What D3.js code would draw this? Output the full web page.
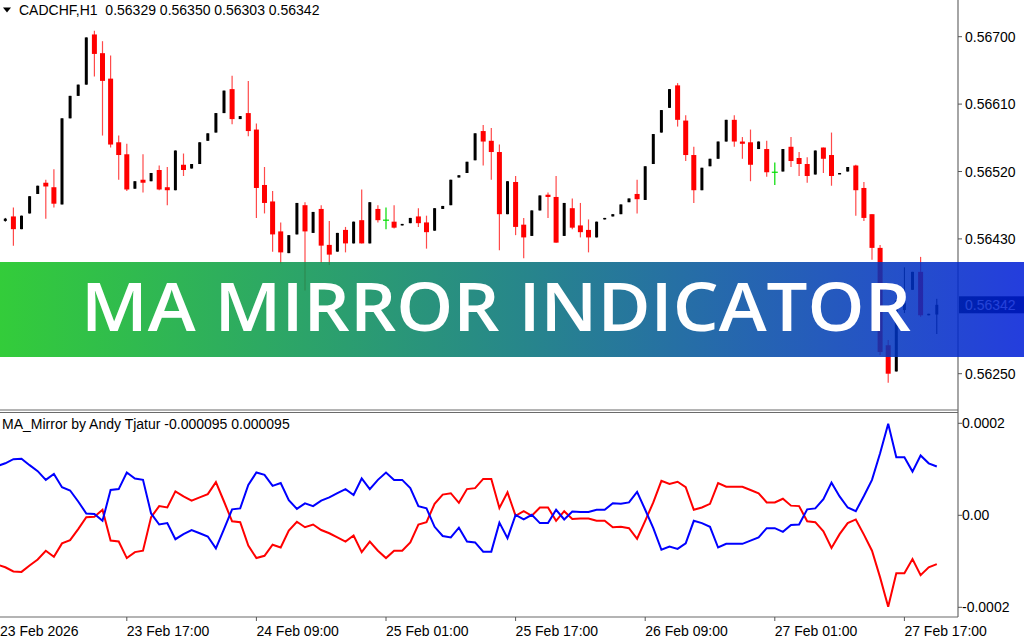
<!DOCTYPE html>
<html>
<head>
<meta charset="utf-8">
<script src="https://cdn.jsdelivr.net/npm/d3@7/dist/d3.min.js"></script>
<style>
  html, body { margin: 0; padding: 0; background: #fff; overflow: hidden; }
  svg { display: block; }
  text { font-family: "Liberation Sans", Arial, sans-serif; font-size: 14px; fill: #000; }
</style>
</head>
<body>
<svg width="1024" height="640"></svg>
<script>
// ---- data (CADCHF H1) ----
const symbolName = "CADCHF,H1"
const lastBar = ["0.56329", "0.56350", "0.56303", "0.56342"]
const indicatorName = "MA_Mirror by Andy Tjatur"
const indicatorLast = ["-0.000095", "0.000095"]
const bannerTitle = "MA MIRROR INDICATOR"

const opens = [
  0.56454, 0.56460, 0.56443, 0.56464, 0.56490, 0.56505, 0.56499, 0.56476, 0.56591, 0.56621,
  0.56636, 0.56703, 0.56678, 0.56644, 0.56559, 0.56543, 0.56497, 0.56509, 0.56507, 0.56522,
  0.56499, 0.56495, 0.56529, 0.56524, 0.56530, 0.56561, 0.56572, 0.56598, 0.56630, 0.56590,
  0.56598, 0.56576, 0.56502, 0.56480, 0.56440, 0.56411, 0.56436, 0.56475, 0.56438, 0.56470,
  0.56422, 0.56413, 0.56442, 0.56424, 0.56455, 0.56424, 0.56470, 0.56455, 0.56453, 0.56448,
  0.56451, 0.56460, 0.56452, 0.56441, 0.56470, 0.56475, 0.56512, 0.56518, 0.56535, 0.56574,
  0.56561, 0.56546, 0.56463, 0.56506, 0.56449, 0.56434, 0.56468, 0.56489, 0.56486, 0.56434,
  0.56471, 0.56448, 0.56442, 0.56432, 0.56456, 0.56460, 0.56463, 0.56479, 0.56490, 0.56482,
  0.56530, 0.56572, 0.56605, 0.56635, 0.56588, 0.56542, 0.56495, 0.56527, 0.56537, 0.56560,
  0.56589, 0.56560, 0.56559, 0.56550, 0.56550, 0.56519, 0.56520, 0.56553, 0.56538, 0.56530,
  0.56516, 0.56552, 0.56542, 0.56517, 0.56520, 0.56528, 0.56498, 0.56463, 0.56418, 0.56288,
  0.56253, 0.56335, 0.56362, 0.56386, 0.56328, 0.56329
]
const highs = [
  0.56458, 0.56472, 0.56461, 0.56487, 0.56501, 0.56509, 0.56523, 0.56591, 0.56621, 0.56636,
  0.56699, 0.56708, 0.56694, 0.56675, 0.56568, 0.56557, 0.56507, 0.56543, 0.56518, 0.56528,
  0.56526, 0.56548, 0.56544, 0.56530, 0.56559, 0.56571, 0.56598, 0.56628, 0.56648, 0.56594,
  0.56641, 0.56584, 0.56526, 0.56494, 0.56452, 0.56435, 0.56478, 0.56479, 0.56466, 0.56475,
  0.56454, 0.56438, 0.56446, 0.56453, 0.56496, 0.56479, 0.56475, 0.56472, 0.56475, 0.56450,
  0.56458, 0.56471, 0.56461, 0.56471, 0.56474, 0.56509, 0.56515, 0.56533, 0.56571, 0.56582,
  0.56578, 0.56556, 0.56507, 0.56514, 0.56458, 0.56468, 0.56488, 0.56492, 0.56514, 0.56478,
  0.56484, 0.56478, 0.56456, 0.56453, 0.56458, 0.56463, 0.56476, 0.56484, 0.56509, 0.56527,
  0.56570, 0.56602, 0.56630, 0.56638, 0.56595, 0.56553, 0.56525, 0.56537, 0.56560, 0.56589,
  0.56595, 0.56566, 0.56576, 0.56560, 0.56561, 0.56532, 0.56550, 0.56566, 0.56546, 0.56539,
  0.56548, 0.56552, 0.56572, 0.56518, 0.56526, 0.56529, 0.56506, 0.56463, 0.56422, 0.56295,
  0.56348, 0.56392, 0.56386, 0.56406, 0.56330, 0.56350
]
const lows = [
  0.56453, 0.56421, 0.56443, 0.56464, 0.56490, 0.56457, 0.56472, 0.56476, 0.56591, 0.56621,
  0.56636, 0.56647, 0.56568, 0.56552, 0.56509, 0.56494, 0.56497, 0.56492, 0.56507, 0.56495,
  0.56475, 0.56495, 0.56514, 0.56524, 0.56530, 0.56561, 0.56572, 0.56598, 0.56583, 0.56590,
  0.56567, 0.56458, 0.56464, 0.56413, 0.56397, 0.56411, 0.56436, 0.56361, 0.56438, 0.56398,
  0.56395, 0.56413, 0.56412, 0.56424, 0.56424, 0.56424, 0.56452, 0.56443, 0.56444, 0.56448,
  0.56451, 0.56446, 0.56417, 0.56441, 0.56470, 0.56475, 0.56512, 0.56518, 0.56535, 0.56528,
  0.56509, 0.56415, 0.56463, 0.56435, 0.56404, 0.56434, 0.56468, 0.56458, 0.56425, 0.56434,
  0.56443, 0.56432, 0.56412, 0.56432, 0.56456, 0.56460, 0.56463, 0.56479, 0.56464, 0.56482,
  0.56530, 0.56572, 0.56605, 0.56580, 0.56534, 0.56478, 0.56495, 0.56527, 0.56537, 0.56560,
  0.56553, 0.56537, 0.56507, 0.56550, 0.56513, 0.56502, 0.56520, 0.56526, 0.56514, 0.56505,
  0.56516, 0.56518, 0.56501, 0.56517, 0.56520, 0.56461, 0.56454, 0.56402, 0.56275, 0.56238,
  0.56253, 0.56331, 0.56362, 0.56326, 0.56328, 0.56303
]
const closes = [
  0.56457, 0.56443, 0.56461, 0.56487, 0.56501, 0.56500, 0.56477, 0.56591, 0.56621, 0.56636,
  0.56699, 0.56677, 0.56641, 0.56556, 0.56542, 0.56496, 0.56507, 0.56505, 0.56518, 0.56496,
  0.56495, 0.56548, 0.56522, 0.56530, 0.56559, 0.56571, 0.56598, 0.56628, 0.56590, 0.56594,
  0.56574, 0.56498, 0.56478, 0.56436, 0.56412, 0.56435, 0.56478, 0.56440, 0.56466, 0.56421,
  0.56409, 0.56438, 0.56424, 0.56453, 0.56424, 0.56479, 0.56455, 0.56455, 0.56445, 0.56450,
  0.56458, 0.56451, 0.56439, 0.56471, 0.56474, 0.56509, 0.56515, 0.56533, 0.56571, 0.56560,
  0.56546, 0.56463, 0.56507, 0.56446, 0.56432, 0.56468, 0.56488, 0.56486, 0.56425, 0.56478,
  0.56445, 0.56439, 0.56432, 0.56453, 0.56458, 0.56463, 0.56476, 0.56484, 0.56483, 0.56527,
  0.56570, 0.56602, 0.56630, 0.56589, 0.56542, 0.56495, 0.56525, 0.56537, 0.56560, 0.56589,
  0.56560, 0.56557, 0.56529, 0.56560, 0.56519, 0.56519, 0.56550, 0.56534, 0.56530, 0.56514,
  0.56548, 0.56537, 0.56514, 0.56518, 0.56526, 0.56495, 0.56458, 0.56418, 0.56279, 0.56250,
  0.56348, 0.56345, 0.56386, 0.56328, 0.56330, 0.56342
]

// indicator buffers, first value belongs to the bar just left of the window
const mirrorUp = [
  0.000107,
  0.000113, 0.000122, 0.000123, 0.000109, 0.000096, 0.000077, 0.000090, 0.000061, 0.000054, 0.000030,
  0.000004, 0.000003, -0.000012, 0.000055, 0.000057, 0.000093, 0.000080, 0.000077, 0.000004, -0.000020,
  -0.000017, -0.000052, -0.000041, -0.000032, -0.000039, -0.000046, -0.000072, -0.000030, 0.000013, 0.000015,
  0.000066, 0.000093, 0.000088, 0.000064, 0.000070, 0.000033, 0.000014, 0.000026, 0.000020, 0.000032,
  0.000039, 0.000048, 0.000057, 0.000044, 0.000080, 0.000057, 0.000077, 0.000093, 0.000077, 0.000077,
  0.000059, 0.000020, 0.000015, -0.000025, -0.000045, -0.000048, -0.000027, -0.000057, -0.000059, -0.000079,
  -0.000079, -0.000016, -0.000050, 0.000001, -0.000009, 0.000001, -0.000017, -0.000017, 0.000012, -0.000009,
  0.000008, 0.000007, 0.000007, 0.000012, 0.000012, 0.000026, 0.000025, 0.000028, 0.000051, 0.000012,
  -0.000028, -0.000075, -0.000068, -0.000073, -0.000061, -0.000012, -0.000017, -0.000025, -0.000070, -0.000062,
  -0.000062, -0.000062, -0.000055, -0.000048, -0.000028, -0.000028, -0.000036, -0.000021, -0.000020, 0.000013,
  0.000015, 0.000035, 0.000071, 0.000041, 0.000017, 0.000009, 0.000042, 0.000077, 0.000135, 0.000199,
  0.000126, 0.000126, 0.000095, 0.000130, 0.000113, 0.000106
]
const mirrorDown = [
  -0.000107,
  -0.000113, -0.000122, -0.000123, -0.000109, -0.000096, -0.000077, -0.000090, -0.000061, -0.000054, -0.000030,
  -0.000004, -0.000003, 0.000012, -0.000055, -0.000057, -0.000093, -0.000080, -0.000077, -0.000004, 0.000020,
  0.000017, 0.000052, 0.000041, 0.000032, 0.000039, 0.000046, 0.000072, 0.000030, -0.000013, -0.000015,
  -0.000066, -0.000093, -0.000088, -0.000064, -0.000070, -0.000033, -0.000014, -0.000026, -0.000020, -0.000032,
  -0.000039, -0.000048, -0.000057, -0.000044, -0.000080, -0.000057, -0.000077, -0.000093, -0.000077, -0.000077,
  -0.000059, -0.000020, -0.000015, 0.000025, 0.000045, 0.000048, 0.000027, 0.000057, 0.000059, 0.000079,
  0.000079, 0.000016, 0.000050, -0.000001, 0.000009, -0.000001, 0.000017, 0.000017, -0.000012, 0.000009,
  -0.000008, -0.000007, -0.000007, -0.000012, -0.000012, -0.000026, -0.000025, -0.000028, -0.000051, -0.000012,
  0.000028, 0.000075, 0.000068, 0.000073, 0.000061, 0.000012, 0.000017, 0.000025, 0.000070, 0.000062,
  0.000062, 0.000062, 0.000055, 0.000048, 0.000028, 0.000028, 0.000036, 0.000021, 0.000020, -0.000013,
  -0.000015, -0.000035, -0.000071, -0.000041, -0.000017, -0.000009, -0.000042, -0.000077, -0.000135, -0.000199,
  -0.000126, -0.000126, -0.000095, -0.000130, -0.000113, -0.000106
]

const priceTicks = [0.567, 0.5661, 0.5652, 0.5643, 0.5625]
const indTicks = [0.0002, 0, -0.0002]
const indTickLabels = ["0.0002", "0.00", "-0.0002"]
const timeTickBars = [-1, 15, 31, 47, 63, 79, 95, 111]
const timeTickLabels = ["23 Feb 2026", "23 Feb 17:00", "24 Feb 09:00", "25 Feb 01:00",
  "25 Feb 17:00", "26 Feb 09:00", "27 Feb 01:00", "27 Feb 17:00"]

// ---- layout ----
const axisX = 958
const mainBottom = 410
const indTop = 412.5
const indBottom = 617

const svg = d3.select("svg")

const x = d3.scaleLinear().domain([0, 115]).range([5.3, 936.8])
const yPrice = d3.scaleLinear().domain([0.5625, 0.567]).range([373.7, 36.7])
const yInd = d3.scaleLinear().domain([-0.0002, 0.0002]).range([607.3, 423.3])

const defs = svg.append("defs")
defs.append("clipPath").attr("id", "clipMain")
  .append("rect").attr("x", 0).attr("y", 0).attr("width", axisX).attr("height", mainBottom)
defs.append("clipPath").attr("id", "clipInd")
  .append("rect").attr("x", 0).attr("y", indTop + 1).attr("width", axisX).attr("height", indBottom - indTop - 1)

const grad = defs.append("linearGradient").attr("id", "bannerGrad")
  .attr("x1", "0%").attr("x2", "100%").attr("y1", "0%").attr("y2", "0%")
grad.append("stop").attr("offset", "0%").attr("stop-color", "rgb(18,196,26)")
grad.append("stop").attr("offset", "50%").attr("stop-color", "rgb(4,116,118)")
grad.append("stop").attr("offset", "100%").attr("stop-color", "rgb(0,30,216)")

// ---- candles ----
const bars = opens.map((o, i) => ({ i, o, h: highs[i], l: lows[i], c: closes[i] }))

const candles = svg.append("g").attr("clip-path", "url(#clipMain)")
  .selectAll("g")
  .data(bars)
  .enter()
  .append("g")
  .attr("transform", d => `translate(${x(d.i)},0)`)

candles.filter(d => d.c > d.o)
  .append("rect")
  .attr("x", -1.5)
  .attr("width", 3)
  .attr("y", d => yPrice(d.c))
  .attr("height", d => Math.max(1.5, yPrice(d.o) - yPrice(d.c)))
  .attr("fill", "#000")

candles.filter(d => d.c > d.o)
  .append("line")
  .attr("y1", d => yPrice(d.h))
  .attr("y2", d => yPrice(d.l))
  .attr("stroke", "#000")
  .attr("stroke-width", 1)

candles.filter(d => d.c < d.o)
  .append("line")
  .attr("y1", d => yPrice(d.h))
  .attr("y2", d => yPrice(d.l))
  .attr("stroke", "#ff4a4a")
  .attr("stroke-width", 1.2)

candles.filter(d => d.c < d.o)
  .append("rect")
  .attr("x", -2.5)
  .attr("width", 5)
  .attr("y", d => yPrice(d.o))
  .attr("height", d => Math.max(1.5, yPrice(d.c) - yPrice(d.o)))
  .attr("fill", "#ff0000")

const doji = candles.filter(d => d.c === d.o)
doji.append("line")
  .attr("y1", d => yPrice(d.h))
  .attr("y2", d => yPrice(d.l))
  .attr("stroke", "#00dd00").attr("stroke-width", 1.2)
doji.append("line")
  .attr("x1", -3).attr("x2", 3)
  .attr("y1", d => yPrice(d.o)).attr("y2", d => yPrice(d.o))
  .attr("stroke", "#00dd00").attr("stroke-width", 1.2)

// ---- indicator lines ----
const indLine = d3.line()
  .x((d, i) => x(i - 1))
  .y(d => yInd(d))

const indG = svg.append("g").attr("clip-path", "url(#clipInd)")
indG.append("path").datum(mirrorDown)
  .attr("d", indLine).attr("fill", "none").attr("stroke", "#ff0000").attr("stroke-width", 2)
indG.append("path").datum(mirrorUp)
  .attr("d", indLine).attr("fill", "none").attr("stroke", "#0000ff").attr("stroke-width", 2)

// ---- frame ----
const frame = svg.append("g").attr("stroke", "#6a6a6a").attr("stroke-width", 1.2)
frame.append("line").attr("x1", axisX).attr("x2", axisX).attr("y1", 0).attr("y2", indBottom)
frame.append("line").attr("x1", 0).attr("x2", axisX).attr("y1", mainBottom).attr("y2", mainBottom)
frame.append("line").attr("x1", 0).attr("x2", axisX).attr("y1", indTop).attr("y2", indTop)
frame.append("line").attr("x1", 0).attr("x2", axisX).attr("y1", indBottom).attr("y2", indBottom)

// price axis
const pAxis = svg.append("g")
pAxis.selectAll("line").data(priceTicks).enter().append("line")
  .attr("x1", axisX).attr("x2", axisX + 4)
  .attr("y1", d => yPrice(d)).attr("y2", d => yPrice(d))
  .attr("stroke", "#555")
pAxis.selectAll("text").data(priceTicks).enter().append("text")
  .attr("x", 965).attr("y", d => yPrice(d) + 5)
  .text(d => d3.format(".5f")(d))

// current price box
svg.append("rect").attr("x", 959).attr("y", yPrice(+lastBar[3]) - 8.5)
  .attr("width", 65).attr("height", 17).attr("fill", "#000")
svg.append("text").attr("x", 965).attr("y", yPrice(+lastBar[3]) + 5)
  .style("fill", "#fff").text(lastBar[3])

// indicator axis
const iAxis = svg.append("g")
iAxis.selectAll("line").data(indTicks).enter().append("line")
  .attr("x1", axisX).attr("x2", axisX + 4)
  .attr("y1", d => yInd(d)).attr("y2", d => yInd(d))
  .attr("stroke", "#555")
iAxis.selectAll("text").data(indTicks).enter().append("text")
  .attr("x", 962).attr("y", d => yInd(d) + 5)
  .text((d, i) => indTickLabels[i])

// time axis
const tAxis = svg.append("g")
tAxis.selectAll("line").data(timeTickBars.slice(1)).enter().append("line")
  .attr("x1", d => x(d)).attr("x2", d => x(d))
  .attr("y1", indBottom).attr("y2", indBottom + 4)
  .attr("stroke", "#555")
tAxis.selectAll("text").data(timeTickBars).enter().append("text")
  .attr("x", d => Math.max(0, x(d))).attr("y", 636)
  .text((d, i) => timeTickLabels[i])

// header texts
svg.append("path").attr("d", "M3,7.5 L11,7.5 L7,12.5 Z").attr("fill", "#000")
svg.append("text").attr("x", 19).attr("y", 15).attr("xml:space", "preserve")
  .text(symbolName + "  " + lastBar.join(" "))
svg.append("text").attr("x", 2).attr("y", 429)
  .text(indicatorName + " " + indicatorLast.join(" "))

// ---- banner ----
svg.append("rect")
  .attr("x", 0).attr("y", 262).attr("width", 1024).attr("height", 95)
  .attr("fill", "url(#bannerGrad)")
  .attr("opacity", 0.86)
svg.append("text")
  .attr("x", 81).attr("y", 331)
  .attr("textLength", 830).attr("lengthAdjust", "spacingAndGlyphs")
  .style("font-family", "'Open Sans', 'Noto Sans', sans-serif")
  .style("font-size", "67px")
  .style("font-weight", 600)
  .style("fill", "#fff")
  .text(bannerTitle)
</script>
</body>
</html>
